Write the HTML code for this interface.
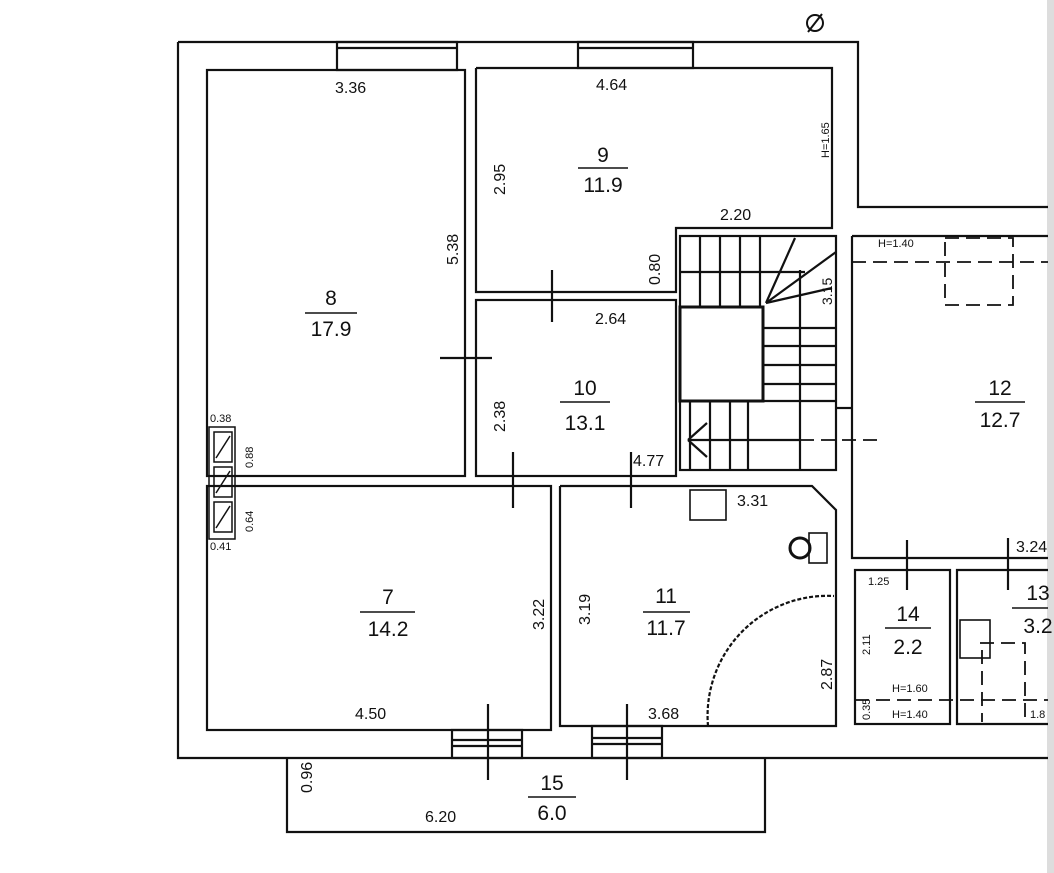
<!DOCTYPE html>
<html><head><style>body{margin:0;background:#fff}svg{display:block}text{font-family:"Liberation Sans",sans-serif;fill:#111}</style></head><body>
<svg width="1054" height="873" viewBox="0 0 1054 873" xmlns="http://www.w3.org/2000/svg">
<rect width="1054" height="873" fill="#fff"/>
<rect x="1047" y="0" width="7" height="873" fill="#ddd"/>
<g stroke="#111" stroke-width="2.2" fill="none">
<!-- outer -->
<polyline points="178,42 858,42 858,207 1048,207"/>
<polyline points="178,42 178,758 1048,758"/>
<!-- rooms -->
<rect x="207" y="70" width="258" height="406"/>
<polyline points="476,68 832,68 832,228 676,228 676,292 476,292 476,68"/>
<rect x="476" y="300" width="200" height="176"/>
<rect x="207" y="486" width="344" height="244"/>
<polyline points="560,486 812,486 836,510 836,726 560,726 560,486"/>
<polyline points="852,236 852,558 1048,558"/>
<line x1="852" y1="236" x2="1048" y2="236"/>
<rect x="855" y="570" width="95" height="154"/>
<polyline points="1048,570 957,570 957,724 1048,724"/>
<polyline points="287,758 287,832 765,832 765,758"/>
<!-- stairs -->
<rect x="680" y="236" width="156" height="234"/>
<rect x="680" y="307" width="83" height="94" stroke-width="3"/>
<line x1="680" y1="272" x2="805" y2="272"/>
<line x1="763" y1="328" x2="836" y2="328"/><line x1="763" y1="346" x2="836" y2="346"/><line x1="763" y1="365" x2="836" y2="365"/><line x1="763" y1="384" x2="836" y2="384"/><line x1="763" y1="401" x2="836" y2="401"/>
<line x1="800" y1="270" x2="800" y2="470"/>
<line x1="700" y1="236" x2="700" y2="307"/><line x1="720" y1="236" x2="720" y2="307"/><line x1="740" y1="236" x2="740" y2="307"/><line x1="760" y1="236" x2="760" y2="307"/>
<line x1="766" y1="303" x2="795" y2="238"/><line x1="766" y1="303" x2="836" y2="252"/><line x1="766" y1="303" x2="832" y2="288"/>
<line x1="690" y1="401" x2="690" y2="470"/><line x1="710" y1="401" x2="710" y2="470"/><line x1="730" y1="401" x2="730" y2="470"/><line x1="748" y1="401" x2="748" y2="470"/>
<line x1="688" y1="440" x2="707" y2="423"/><line x1="688" y1="440" x2="707" y2="457"/>
<line x1="688" y1="440" x2="800" y2="440"/>
<line x1="836" y1="408" x2="852" y2="408"/>
<!-- windows -->
<rect x="337" y="42" width="120" height="28"/><line x1="337" y1="48" x2="457" y2="48"/>
<rect x="578" y="42" width="115" height="26"/><line x1="578" y1="48" x2="693" y2="48"/>
<rect x="452" y="730" width="70" height="28"/><line x1="452" y1="740" x2="522" y2="740"/><line x1="452" y1="746" x2="522" y2="746"/>
<rect x="592" y="726" width="70" height="32"/><line x1="592" y1="738" x2="662" y2="738"/><line x1="592" y1="744" x2="662" y2="744"/>
<!-- vents -->
<rect x="209" y="427" width="26" height="112" stroke-width="1.5"/>
<rect x="214" y="432" width="18" height="30" stroke-width="1.5"/><rect x="214" y="467" width="18" height="30" stroke-width="1.5"/><rect x="214" y="502" width="18" height="30" stroke-width="1.5"/>
<line x1="216" y1="458" x2="230" y2="436" stroke-width="1.5"/><line x1="216" y1="493" x2="230" y2="471" stroke-width="1.5"/><line x1="216" y1="528" x2="230" y2="506" stroke-width="1.5"/>
<!-- dim ticks -->
<line x1="552" y1="270" x2="552" y2="322"/><line x1="440" y1="358" x2="492" y2="358"/>
<line x1="513" y1="452" x2="513" y2="508"/><line x1="631" y1="452" x2="631" y2="508"/>
<line x1="488" y1="704" x2="488" y2="780"/><line x1="627" y1="704" x2="627" y2="780"/>
<line x1="907" y1="540" x2="907" y2="590"/><line x1="1008" y1="538" x2="1008" y2="590"/>
<!-- fixtures -->
<rect x="690" y="490" width="36" height="30" stroke-width="1.6"/>
<rect x="809" y="533" width="18" height="30" stroke-width="1.6"/>
<circle cx="800" cy="548" r="10" stroke-width="3"/>
<rect x="960" y="620" width="30" height="38" stroke-width="1.6"/>
<path d="M708,726 A120,120 0 0 1 834,596" stroke-dasharray="4,2"/>
</g>
<g stroke="#111" stroke-width="1.8" fill="none" stroke-dasharray="14,7">
<line x1="852" y1="262" x2="1048" y2="262"/>
<rect x="945" y="238" width="68" height="67"/>
<line x1="800" y1="440" x2="880" y2="440"/>
<line x1="855" y1="700" x2="1048" y2="700"/>
<polyline points="980,643 1025,643 1025,722"/><line x1="982" y1="650" x2="982" y2="722"/>
</g>
<line x1="808" y1="32" x2="822" y2="14" stroke="#111" stroke-width="2"/><circle cx="815" cy="23" r="8" stroke="#111" stroke-width="2" fill="none"/>
<g font-size="16">
<text x="335" y="93">3.36</text><text x="596" y="90">4.64</text><text x="720" y="220">2.20</text>
<text x="595" y="324">2.64</text><text x="633" y="466">4.77</text><text x="737" y="506">3.31</text>
<text x="355" y="719">4.50</text><text x="648" y="719">3.68</text><text x="425" y="822">6.20</text>
<text x="1016" y="552">3.24</text>
<text transform="translate(458,265) rotate(-90)">5.38</text>
<text transform="translate(505,195) rotate(-90)">2.95</text>
<text transform="translate(660,285) rotate(-90)">0.80</text>
<text transform="translate(505,432) rotate(-90)">2.38</text>
<text transform="translate(544,630) rotate(-90)">3.22</text>
<text transform="translate(590,625) rotate(-90)">3.19</text>
<text transform="translate(832,690) rotate(-90)">2.87</text>
<text transform="translate(312,793) rotate(-90)">0.96</text>
<text transform="translate(832,305) rotate(-90)" font-size="14">3.15</text>
</g>
<g font-size="11">
<text x="210" y="422">0.38</text><text x="210" y="550">0.41</text>
<text transform="translate(253,468) rotate(-90)">0.88</text><text transform="translate(253,532) rotate(-90)">0.64</text>
<text transform="translate(829,158) rotate(-90)">H=1.65</text>
<text x="878" y="247">H=1.40</text><text x="868" y="585">1.25</text>
<text x="892" y="692">H=1.60</text><text x="892" y="718">H=1.40</text>
<text transform="translate(870,720) rotate(-90)">0.35</text>
<text transform="translate(870,655) rotate(-90)">2.11</text>
<text x="1030" y="718">1.8</text>
</g>
<g font-size="21" text-anchor="middle">
<text x="331" y="305">8</text><line x1="305" y1="313" x2="357" y2="313" stroke="#111" stroke-width="1.5"/><text x="331" y="336">17.9</text>
<text x="603" y="162">9</text><line x1="578" y1="168" x2="628" y2="168" stroke="#111" stroke-width="1.5"/><text x="603" y="192">11.9</text>
<text x="585" y="395">10</text><line x1="560" y1="402" x2="610" y2="402" stroke="#111" stroke-width="1.5"/><text x="585" y="430">13.1</text>
<text x="388" y="604">7</text><line x1="360" y1="612" x2="415" y2="612" stroke="#111" stroke-width="1.5"/><text x="388" y="636">14.2</text>
<text x="666" y="603">11</text><line x1="643" y1="612" x2="690" y2="612" stroke="#111" stroke-width="1.5"/><text x="666" y="635">11.7</text>
<text x="1000" y="395">12</text><line x1="975" y1="402" x2="1025" y2="402" stroke="#111" stroke-width="1.5"/><text x="1000" y="427">12.7</text>
<text x="908" y="621">14</text><line x1="885" y1="628" x2="931" y2="628" stroke="#111" stroke-width="1.5"/><text x="908" y="654">2.2</text>
<text x="1038" y="600">13</text><line x1="1012" y1="608" x2="1048" y2="608" stroke="#111" stroke-width="1.5"/><text x="1038" y="633">3.2</text>
<text x="552" y="790">15</text><line x1="528" y1="797" x2="576" y2="797" stroke="#111" stroke-width="1.5"/><text x="552" y="820">6.0</text>
</g>
</svg>
</body></html>
